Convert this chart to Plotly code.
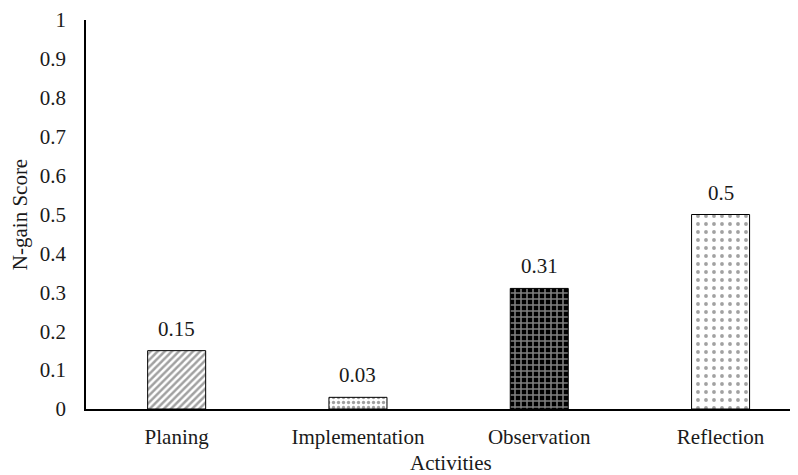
import plotly.graph_objects as go

categories = ["Planing", "Implementation", "Observation", "Reflection"]
values = [0.15, 0.03, 0.31, 0.5]
labels = ["0.15", "0.03", "0.31", "0.5"]
yticks = [0, 0.1, 0.2, 0.3, 0.4, 0.5, 0.6, 0.7, 0.8, 0.9, 1]
yticktext = ["0", "0.1", "0.2", "0.3", "0.4", "0.5", "0.6", "0.7", "0.8", "0.9", "1"]

shapes = ["/", ".", "+", "."]
bgs = ["white", "white", "black", "white"]
fgs = ["black", "black", "#c8c8c8", "black"]
sizes = [5, 5, 6, 8]
solids = [0.5, 0.35, 0.45, 0.18]

FONT = "Liberation Serif, Times New Roman, serif"
TXT = "#1a1a1a"
FS = 21

fig = go.Figure()
fig.add_trace(go.Bar(
    x=categories, y=values, width=0.32,
    marker=dict(
        color=bgs,
        line=dict(color="black", width=1),
        pattern=dict(shape=shapes, bgcolor=bgs, fgcolor=fgs, size=sizes,
                     solidity=solids, fillmode="overlay"),
    ),
    showlegend=False, hoverinfo="skip",
))

for c, v, t in zip(categories, values, labels):
    fig.add_annotation(x=c, y=v, text=t, showarrow=False, yanchor="bottom",
                       yshift=8, font=dict(family=FONT, size=FS, color=TXT))

fig.add_annotation(xref="paper", yref="paper", x=0.513, y=-0.104,
                   yanchor="top", text="Activities", showarrow=False,
                   font=dict(family=FONT, size=FS, color=TXT))

fig.update_layout(
    width=798, height=475,
    margin=dict(l=78, r=8, t=12, b=74),
    plot_bgcolor="white", paper_bgcolor="white",
    font=dict(family=FONT, size=FS, color=TXT),
)
fig.update_xaxes(
    range=[-0.5, 3.427], showline=True, linecolor="black", linewidth=2,
    showgrid=False, ticks="", ticklabelstandoff=8, automargin=False,
)
fig.update_yaxes(
    range=[0, 1], tickvals=yticks, ticktext=yticktext,
    showline=True, linecolor="black", linewidth=1.5,
    showgrid=False, zeroline=False, ticks="", ticklabelstandoff=14,
    automargin=False,
    title=dict(text="N-gain Score", font=dict(size=FS), standoff=10),
)

fig.write_html("out.html")
